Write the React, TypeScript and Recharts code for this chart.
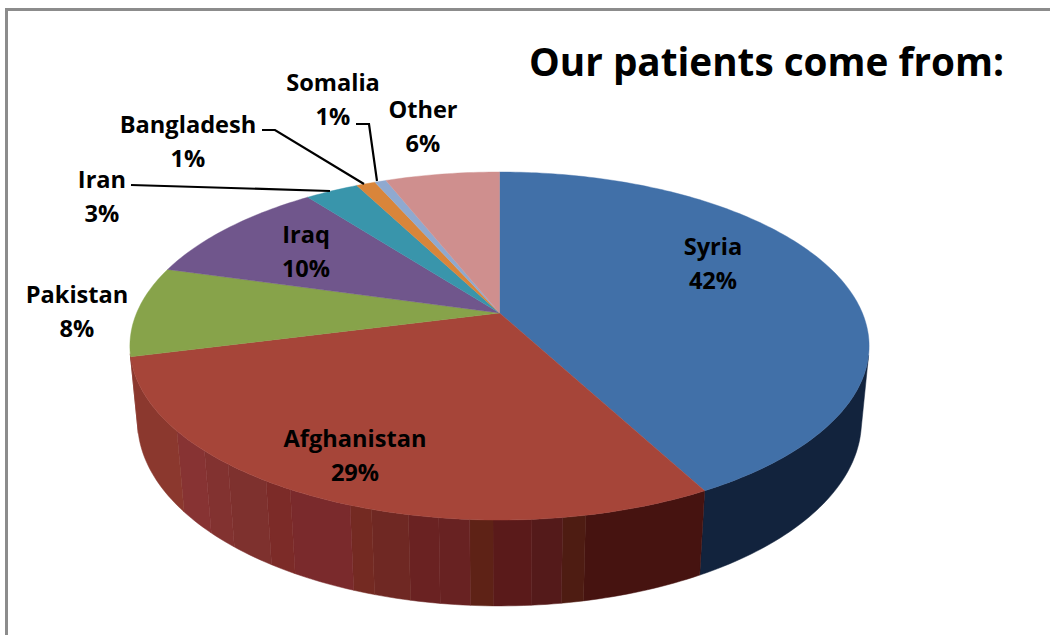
import React from 'react';
import { PieChart, Pie } from 'recharts';

const countries = ['Syria', 'Afghanistan', 'Pakistan', 'Iraq', 'Iran', 'Bangladesh', 'Somalia', 'Other'];
const shares = [42.2, 28.8, 8.4, 10.2, 2.8, 1.0, 0.6, 6];
const topColors = ['#4170a8', '#a64539', '#87a34a', '#70568c', '#3995ab', '#d9853a', '#8fa9cf', '#cf8f8e'];
const wallColors = ['#12233d', '#461310', '#8b382e', '#463558', '#225e6c', '#8a5222', '#5a6a84', '#825a5a'];

// the Afghanistan side has visible facets, left to right
const afghanFacets = [
  '#8b382e', '#8b382e', '#8b382e', '#8b382e', '#8b382e', '#8b382e', '#873333', '#873333', '#823230',
  '#7e312e', '#7e312e', '#7c2b28', '#7a2a2c', '#7a2a2c', '#742a22', '#6f2823', '#6a2222', '#682222',
  '#5e2216', '#5a1a1a', '#541a1a', '#4e1c12', '#461310', '#461310', '#461310', '#461310',
];

const data = countries.map((name, i) => ({ name, value: shares[i], fill: topColors[i] }));

const WIDTH = 1050;
const HEIGHT = 635;
const CX = 499.5;
const CY = 313;
const RADIUS = 362.9;

// camera tilt: the disc is a circle seen in perspective, so the centre is not the ellipse middle
const TILT = -0.1897;
const SQUASH = 108.4;
const DEPTH_Y = 82;
const DEPTH_W = 0.0205;

const project = (deg: number, bottom = false) => {
  const rad = (deg * Math.PI) / 180;
  const u = Math.cos(rad);
  const v = -Math.sin(rad);
  const w = 1 + TILT * v + (bottom ? DEPTH_W : 0);
  return {
    x: CX + (RADIUS * u) / w,
    y: (CY + SQUASH * v + (bottom ? DEPTH_Y : 0)) / w,
  };
};

const arcAngles = (start: number, end: number) => {
  const steps = Math.max(2, Math.ceil(Math.abs(end - start)));
  return Array.from({ length: steps + 1 }, (_, i) => start + ((end - start) * i) / steps);
};

const TopFace = (props: any) => {
  const { startAngle, endAngle, fill } = props;
  const pts = arcAngles(startAngle, endAngle).map((a) => project(a));
  const d = `M${CX},${CY} ` + pts.map((p) => `L${p.x.toFixed(2)},${p.y.toFixed(2)}`).join(' ') + ' Z';
  return <path d={d} fill={fill} stroke={fill} strokeWidth={0.4} />;
};

const SideWall = (props: any) => {
  const { startAngle, endAngle, name } = props;
  const idx = countries.indexOf(name);
  const angles = arcAngles(startAngle, endAngle);
  // group neighbouring segments of one colour so no seams show
  const runs: { color: string; from: number; to: number }[] = [];
  for (let i = 0; i < angles.length - 1; i++) {
    const a = project(angles[i]);
    const b = project(angles[i + 1]);
    const e = project(angles[i], true);
    // skip the faces that look away from the viewer
    const area = (b.x - a.x) * (e.y - a.y) - (b.y - a.y) * (e.x - a.x);
    if (area > 0) continue;
    let color = wallColors[idx];
    if (name === 'Afghanistan') {
      const f = (angles[i] - startAngle) / (endAngle - startAngle);
      color = afghanFacets[afghanFacets.length - 1 - Math.floor(f * afghanFacets.length)];
    }
    const last = runs[runs.length - 1];
    if (last && last.color === color && last.to === angles[i]) last.to = angles[i + 1];
    else runs.push({ color, from: angles[i], to: angles[i + 1] });
  }
  return (
    <g>
      {runs.map((run, i) => {
        const along = arcAngles(run.from, run.to);
        const top = along.map((a) => project(a));
        const bottom = along.map((a) => project(a, true)).reverse();
        const d = 'M' + [...top, ...bottom].map((p) => `${p.x.toFixed(2)},${p.y.toFixed(2)}`).join(' L') + ' Z';
        return <path key={i} d={d} fill={run.color} stroke={run.color} strokeWidth={0.5} />;
      })}
    </g>
  );
};

const labelSpots: Record<string, { x: number; y: number }> = {
  Syria: { x: 713, y: 255 },
  Afghanistan: { x: 355, y: 447 },
  Pakistan: { x: 77, y: 303 },
  Iraq: { x: 306, y: 243 },
  Iran: { x: 102, y: 188 },
  Bangladesh: { x: 188, y: 133 },
  Somalia: { x: 333, y: 91 },
  Other: { x: 423, y: 118 },
};

const leaders: Record<string, string> = {
  Iran: '131,185 330,191',
  Bangladesh: '262,130 275,130 364,184',
  Somalia: '356,124 369,124 377,181',
};

const FONT = '"Open Sans", sans-serif';
const LABEL_SIZE = 23.6;

const SliceLabel = (props: any) => {
  const { name, value } = props;
  const spot = labelSpots[name];
  return (
    <g>
      {leaders[name] && <polyline points={leaders[name]} fill="none" stroke="#000" strokeWidth={2.2} />}
      <text x={spot.x} y={spot.y} textAnchor="middle" fontFamily={FONT} fontWeight={700} fontSize={LABEL_SIZE} fill="#000">
        {name}
      </text>
      <text x={spot.x} y={spot.y + 34} textAnchor="middle" fontFamily={FONT} fontWeight={700} fontSize={LABEL_SIZE} fill="#000">
        {Math.round(value)}%
      </text>
    </g>
  );
};

export default function App() {
  return (
    <div style={{ position: 'absolute', left: 0, top: 0, width: WIDTH, height: HEIGHT, background: '#fff', overflow: 'hidden' }}>
      <div
        style={{
          position: 'absolute',
          left: 5,
          top: 8,
          width: WIDTH,
          height: HEIGHT,
          borderLeft: '3px solid #8c8c8c',
          borderTop: '3px solid #8c8c8c',
        }}
      />
      <div style={{ position: 'absolute', left: 0, top: 0 }}>
        <PieChart width={WIDTH} height={HEIGHT} margin={{ top: 0, right: 0, bottom: 0, left: 0 }}>
          <Pie
            data={data}
            dataKey="value"
            nameKey="name"
            cx={CX}
            cy={CY}
            outerRadius={RADIUS}
            startAngle={90}
            endAngle={-270}
            shape={SideWall}
            isAnimationActive={false}
          />
          <Pie
            data={data}
            dataKey="value"
            nameKey="name"
            cx={CX}
            cy={CY}
            outerRadius={RADIUS}
            startAngle={90}
            endAngle={-270}
            shape={TopFace}
            label={SliceLabel}
            labelLine={false}
            isAnimationActive={false}
          />
          <text x={766.5} y={76} textAnchor="middle" fontFamily={FONT} fontWeight={700} fontSize={38.7} fill="#000">
            Our patients come from:
          </text>
        </PieChart>
      </div>
    </div>
  );
}
